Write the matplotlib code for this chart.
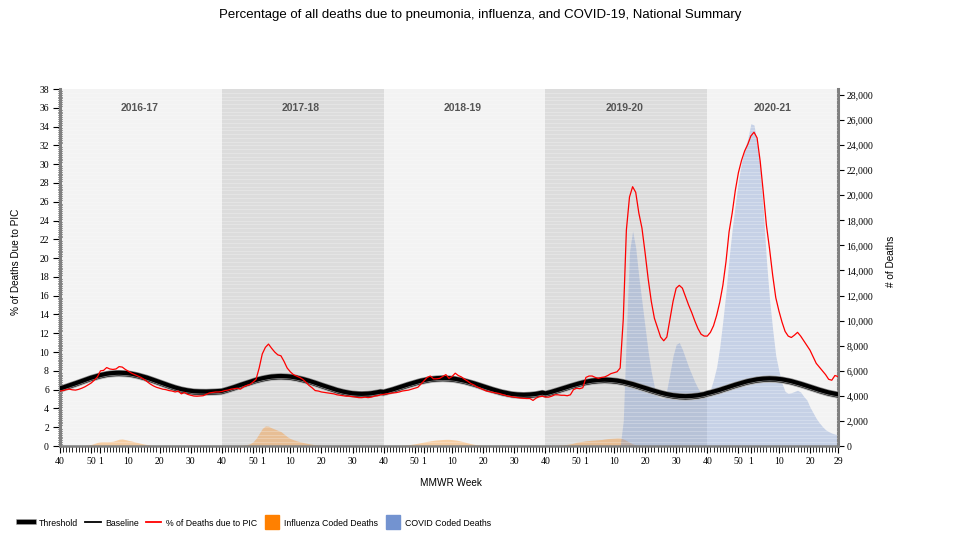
import matplotlib.pyplot as plt
import matplotlib.patheffects as pe
from matplotlib.lines import Line2D
from matplotlib.ticker import MultipleLocator, FuncFormatter
import numpy as np

plt.rcParams["font.family"] = ["Liberation Sans", "DejaVu Sans"]

TITLE = "Percentage of all deaths due to pneumonia, influenza, and COVID-19, National Summary"

SEASONS = ["2016-17", "2017-18", "2018-19", "2019-20", "2020-21"]
# MMWR weeks in each season (2020 has a week 53)
SEASON_WEEKS = [
    list(range(40, 53)) + list(range(1, 40)),
    list(range(40, 53)) + list(range(1, 40)),
    list(range(40, 53)) + list(range(1, 40)),
    list(range(40, 53)) + list(range(1, 40)),
    list(range(40, 54)) + list(range(1, 30)),
]
LABELED_WEEKS = {40, 50, 1, 10, 20, 30}

threshold_pct = [
    # 2016-17
    6.14, 6.23, 6.34, 6.45, 6.56, 6.68, 6.80, 6.92, 7.04, 7.16,
    7.27, 7.37, 7.46, 7.55, 7.62, 7.69, 7.74, 7.77, 7.79, 7.80,
    7.79, 7.77, 7.74, 7.69, 7.62, 7.55, 7.46, 7.37, 7.27, 7.16,
    7.04, 6.92, 6.80, 6.68, 6.56, 6.45, 6.34, 6.23, 6.14, 6.05,
    5.98, 5.92, 5.87, 5.83, 5.81, 5.80, 5.79, 5.79, 5.80, 5.81, 5.83, 5.85,
    # 2017-18
    5.87, 5.96, 6.06, 6.16, 6.27, 6.39, 6.50, 6.61, 6.73, 6.84,
    6.94, 7.04, 7.13, 7.21, 7.28, 7.34, 7.39, 7.42, 7.44, 7.45,
    7.44, 7.42, 7.39, 7.34, 7.28, 7.21, 7.13, 7.04, 6.94, 6.84,
    6.73, 6.61, 6.50, 6.39, 6.27, 6.16, 6.06, 5.96, 5.87, 5.79,
    5.72, 5.66, 5.61, 5.58, 5.56, 5.55, 5.56, 5.58, 5.61, 5.66, 5.72, 5.79,
    # 2018-19
    5.75, 5.84, 5.93, 6.03, 6.14, 6.24, 6.35, 6.46, 6.57, 6.67,
    6.77, 6.86, 6.95, 7.02, 7.09, 7.15, 7.19, 7.22, 7.24, 7.25,
    7.24, 7.22, 7.19, 7.15, 7.09, 7.02, 6.95, 6.86, 6.77, 6.67,
    6.57, 6.46, 6.35, 6.24, 6.14, 6.03, 5.93, 5.84, 5.75, 5.68,
    5.61, 5.55, 5.51, 5.48, 5.46, 5.45, 5.46, 5.48, 5.51, 5.55, 5.61, 5.68,
    # 2019-20
    5.60, 5.68, 5.77, 5.87, 5.97, 6.07, 6.18, 6.29, 6.39, 6.49,
    6.59, 6.68, 6.76, 6.84, 6.90, 6.96, 7.00, 7.03, 7.05, 7.06,
    7.05, 7.03, 7.00, 6.96, 6.90, 6.84, 6.76, 6.68, 6.59, 6.49,
    6.39, 6.29, 6.18, 6.07, 5.97, 5.87, 5.77, 5.68, 5.60, 5.52,
    5.46, 5.40, 5.36, 5.33, 5.31, 5.30, 5.31, 5.33, 5.36, 5.40, 5.46, 5.52,
    # 2020-21
    5.63, 5.70, 5.79, 5.88, 5.98, 6.09, 6.19, 6.30, 6.41, 6.52,
    6.62, 6.72, 6.81, 6.90, 6.97, 7.04, 7.10, 7.14, 7.17, 7.19,
    7.20, 7.19, 7.17, 7.14, 7.10, 7.04, 6.97, 6.90, 6.81, 6.72,
    6.62, 6.52, 6.41, 6.30, 6.19, 6.09, 5.98, 5.88, 5.79, 5.70,
    5.63, 5.56, 5.50,
]

baseline_pct = [
    # 2016-17
    5.84, 5.93, 6.04, 6.15, 6.26, 6.38, 6.50, 6.62, 6.74, 6.86,
    6.97, 7.07, 7.16, 7.25, 7.32, 7.39, 7.44, 7.47, 7.49, 7.50,
    7.49, 7.47, 7.44, 7.39, 7.32, 7.25, 7.16, 7.07, 6.97, 6.86,
    6.74, 6.62, 6.50, 6.38, 6.26, 6.15, 6.04, 5.93, 5.84, 5.75,
    5.68, 5.62, 5.57, 5.53, 5.51, 5.50, 5.49, 5.49, 5.50, 5.51, 5.53, 5.55,
    # 2017-18
    5.57, 5.66, 5.76, 5.86, 5.97, 6.09, 6.20, 6.31, 6.43, 6.54,
    6.64, 6.74, 6.83, 6.91, 6.98, 7.04, 7.09, 7.12, 7.14, 7.15,
    7.14, 7.12, 7.09, 7.04, 6.98, 6.91, 6.83, 6.74, 6.64, 6.54,
    6.43, 6.31, 6.20, 6.09, 5.97, 5.86, 5.76, 5.66, 5.57, 5.49,
    5.42, 5.36, 5.31, 5.28, 5.26, 5.25, 5.26, 5.28, 5.31, 5.36, 5.42, 5.49,
    # 2018-19
    5.45, 5.54, 5.63, 5.73, 5.84, 5.94, 6.05, 6.16, 6.27, 6.37,
    6.47, 6.56, 6.65, 6.72, 6.79, 6.85, 6.89, 6.92, 6.94, 6.95,
    6.94, 6.92, 6.89, 6.85, 6.79, 6.72, 6.65, 6.56, 6.47, 6.37,
    6.27, 6.16, 6.05, 5.94, 5.84, 5.73, 5.63, 5.54, 5.45, 5.38,
    5.31, 5.25, 5.21, 5.18, 5.16, 5.15, 5.16, 5.18, 5.21, 5.25, 5.31, 5.38,
    # 2019-20
    5.30, 5.38, 5.47, 5.57, 5.67, 5.77, 5.88, 5.99, 6.09, 6.19,
    6.29, 6.38, 6.46, 6.54, 6.60, 6.66, 6.70, 6.73, 6.75, 6.76,
    6.75, 6.73, 6.70, 6.66, 6.60, 6.54, 6.46, 6.38, 6.29, 6.19,
    6.09, 5.99, 5.88, 5.77, 5.67, 5.57, 5.47, 5.38, 5.30, 5.22,
    5.16, 5.10, 5.06, 5.03, 5.01, 5.00, 5.01, 5.03, 5.06, 5.10, 5.16, 5.22,
    # 2020-21
    5.33, 5.40, 5.49, 5.58, 5.68, 5.79, 5.89, 6.00, 6.11, 6.22,
    6.32, 6.42, 6.51, 6.60, 6.67, 6.74, 6.80, 6.84, 6.87, 6.89,
    6.90, 6.89, 6.87, 6.84, 6.80, 6.74, 6.67, 6.60, 6.51, 6.42,
    6.32, 6.22, 6.11, 6.00, 5.89, 5.79, 5.68, 5.58, 5.49, 5.40,
    5.33, 5.26, 5.20,
]

pic_pct = [
    # 2016-17
    5.85, 5.90, 6.00, 6.05, 5.98, 5.95, 6.03, 6.15, 6.30, 6.50,
    6.70, 7.00, 7.35, 8.00, 8.05, 8.35, 8.20, 8.15, 8.20, 8.45,
    8.40, 8.15, 7.95, 7.75, 7.60, 7.45, 7.30, 7.10, 6.85, 6.60,
    6.40, 6.25, 6.15, 6.05, 6.00, 5.90, 5.85, 5.75, 5.85, 5.55,
    5.70, 5.50, 5.40, 5.32, 5.30, 5.33, 5.35, 5.50, 5.65, 5.70, 5.75, 5.75,
    # 2017-18
    5.80, 5.90, 5.95, 6.05, 6.10, 6.15, 6.05, 6.30, 6.45, 6.55,
    6.80, 7.10, 8.30, 9.80, 10.50, 10.85, 10.40, 10.00, 9.70, 9.60,
    9.00, 8.30, 7.90, 7.60, 7.45, 7.30, 7.10, 6.80, 6.45, 6.20,
    5.90, 5.85, 5.75, 5.70, 5.65, 5.60, 5.55, 5.45, 5.40, 5.35,
    5.30, 5.30, 5.25, 5.20, 5.15, 5.15, 5.20, 5.15, 5.20, 5.30, 5.35, 5.45,
    # 2018-19
    5.50, 5.55, 5.60, 5.65, 5.68, 5.75, 5.85, 5.90, 5.95, 6.05,
    6.15, 6.25, 6.60, 6.95, 7.30, 7.45, 7.15, 7.15, 7.20, 7.40,
    7.60, 7.20, 7.40, 7.75, 7.50, 7.35, 7.10, 6.90, 6.65, 6.50,
    6.30, 6.15, 6.00, 5.85, 5.78, 5.72, 5.65, 5.60, 5.50, 5.40,
    5.30, 5.25, 5.20, 5.15, 5.10, 5.07, 5.05, 5.05, 4.85, 5.10, 5.25, 5.30,
    # 2019-20
    5.20, 5.20, 5.30, 5.45, 5.45, 5.40, 5.40, 5.35, 5.45, 6.00,
    6.15, 6.10, 6.20, 7.30, 7.45, 7.45, 7.30, 7.20, 7.30, 7.35,
    7.50, 7.70, 7.80, 7.90, 8.30, 13.50, 23.00, 26.50, 27.60, 27.00,
    24.80, 23.20, 20.60, 17.80, 15.40, 13.60, 12.60, 11.60, 11.20, 11.60,
    13.50, 15.40, 16.80, 17.10, 16.80, 15.90, 15.00, 14.20, 13.30, 12.50, 11.90, 11.70,
    # 2020-21
    11.70, 12.10, 12.80, 13.90, 15.30, 17.10, 19.60, 22.80, 24.80, 27.20,
    29.10, 30.40, 31.40, 32.10, 33.00, 33.40, 32.80, 30.30, 27.00, 23.50,
    21.00, 18.20, 15.80, 14.40, 13.20, 12.20, 11.70, 11.55, 11.80, 12.10,
    11.70, 11.20, 10.70, 10.20, 9.50, 8.80, 8.40, 8.00, 7.60, 7.10,
    7.00, 7.50, 7.40,
]

flu_deaths = [
    # 2016-17
    10, 10, 10, 15, 15, 20, 25, 35, 50, 70,
    120, 200, 290, 340, 350, 345, 350, 380, 460, 540,
    560, 510, 450, 400, 330, 270, 210, 160, 110, 75,
    50, 35, 25, 20, 15, 15, 15, 12, 12, 10,
    10, 10, 10, 10, 10, 10, 10, 10, 10, 10, 10, 10,
    # 2017-18
    15, 15, 20, 25, 30, 40, 55, 80, 110, 180,
    330, 600, 1000, 1400, 1600, 1580, 1450, 1350, 1250, 1150,
    950, 750, 600, 500, 420, 350, 290, 230, 180, 140,
    100, 70, 50, 40, 30, 30, 25, 25, 20, 20,
    15, 15, 15, 15, 15, 15, 15, 15, 15, 15, 15, 15,
    # 2018-19
    15, 15, 20, 25, 30, 40, 55, 75, 100, 140,
    180, 220, 270, 320, 370, 410, 450, 480, 500, 520,
    530, 530, 510, 480, 440, 380, 320, 250, 190, 140,
    100, 70, 50, 40, 30, 25, 20, 20, 15, 15,
    10, 10, 10, 10, 10, 10, 10, 10, 10, 10, 10, 10,
    # 2019-20
    20, 25, 30, 40, 55, 70, 100, 130, 170, 230,
    300, 340, 380, 420, 440, 460, 480, 500, 520, 560,
    590, 610, 630, 650, 640, 560, 440, 300, 170, 90,
    40, 20, 15, 10, 10, 5, 5, 5, 5, 5,
    5, 5, 5, 5, 5, 5, 5, 5, 5, 5, 5, 5,
    # 2020-21
    5, 5, 5, 5, 5, 5, 5, 5, 5, 5,
    5, 5, 5, 5, 5, 5, 5, 5, 5, 5,
    5, 5, 5, 5, 5, 5, 5, 5, 5, 5,
    5, 5, 5, 5, 5, 5, 5, 5, 5, 5,
    5, 5, 5,
]

covid_deaths = [0] * 156 + [
    # 2019-20
    0, 0, 0, 0, 0, 0, 0, 0, 0, 0,
    0, 0, 0, 0, 0, 0, 0, 0, 0, 0,
    0, 0, 0, 0, 0, 2000, 9000, 15500, 17150, 15800,
    13500, 11500, 9500, 7500, 5900, 4700, 4000, 3850, 3800, 4500,
    5800, 7200, 8100, 8250, 7700, 7000, 6300, 5700, 5100, 4600, 4250, 4200,
    # 2020-21
    4100, 4500, 5300, 6300, 7900, 10000, 12300, 15000, 17300, 19300,
    21200, 22600, 23700, 24500, 25700, 25600, 24200, 22300, 18800, 14800,
    11700, 9300, 7200, 6000, 5000, 4350, 4200, 4250, 4350, 4450,
    4300, 3950, 3670, 3100, 2650, 2200, 1850, 1550, 1300, 1150,
    1030, 950, 880,
]

# ---- x positions / ticks built from week lists
weeks = [w for s in SEASON_WEEKS for w in s]
x = np.arange(len(weeks))
season_start = np.cumsum([0] + [len(s) for s in SEASON_WEEKS])
tick_pos = [i for i, w in enumerate(weeks) if w in LABELED_WEEKS] + [len(weeks) - 1]
tick_lab = [str(weeks[i]) for i in tick_pos]

fig = plt.figure(figsize=(9.6, 5.37), dpi=100)
ax = fig.add_axes([60 / 960, 91 / 537, 778 / 960, 357 / 537])   # deaths (right)
ax_pct = ax.twinx()                                              # percent (left)
ax.yaxis.tick_right()
ax.yaxis.set_label_position("right")
ax_pct.yaxis.tick_left()

ax.set_xlim(0, len(weeks) - 1)
ax.set_ylim(0, 28470)
ax_pct.set_ylim(0, 38)

# season bands
ax.set_facecolor("#f3f3f3")
for k, name in enumerate(SEASONS):
    a, b = season_start[k], season_start[k + 1]
    if k % 2 == 1:
        ax.axvspan(a, b, color="#dcdcdc", lw=0, zorder=0)
    ax_pct.text((a + b) / 2 - 0.5, 36, name, ha="center", va="center",
                fontsize=7.5, fontweight="bold", color="#555555")

# areas
ax.fill_between(x, 0, flu_deaths, color="#ff8000", alpha=0.32, lw=0, zorder=2)
ax.fill_between(x, 0, covid_deaths, color="#7393d0", alpha=0.35, lw=0, zorder=2)

# faint horizontal stripes
for yv in np.arange(0.4, 38, 0.4):
    ax_pct.axhline(yv, color="white", lw=0.7, alpha=0.25, zorder=0.5)

# lines
ax_pct.plot(x, baseline_pct, color="black", lw=0.8, zorder=3,
            path_effects=[pe.Stroke(linewidth=2.2, foreground="#b5b5b5"), pe.Normal()])
ax_pct.plot(x, threshold_pct, color="black", lw=3.0, zorder=4,
            path_effects=[pe.Stroke(linewidth=4.0, foreground="#8a8a8a"), pe.Normal()])
ax_pct.plot(x, pic_pct, color="#ff0000", lw=0.9, zorder=5)

# spines
for s in ("top", "left"):
    ax.spines[s].set_visible(False)
for s in ("top", "right", "bottom"):
    ax_pct.spines[s].set_visible(False)
ax.spines["right"].set_color("#808080")
ax.spines["right"].set_linewidth(2.2)
ax.spines["bottom"].set_color("#808080")
ax.spines["bottom"].set_linewidth(1.8)
ax_pct.spines["left"].set_color("#808080")
ax_pct.spines["left"].set_linewidth(2.2)

# ticks
tick_font = "Liberation Serif"
ax.set_xticks(tick_pos)
ax.set_xticklabels(tick_lab)
ax.xaxis.set_minor_locator(MultipleLocator(1))
ax.tick_params(axis="x", which="major", length=5, width=0.8, labelsize=7,
               pad=3, labelfontfamily=tick_font)
ax.tick_params(axis="x", which="minor", length=4, width=0.6)

ax.set_yticks(range(0, 28001, 2000))
ax.yaxis.set_major_formatter(FuncFormatter(lambda v, _: f"{int(v):,}"))
ax.tick_params(axis="y", which="major", length=4, width=0.8, labelsize=7,
               pad=2, labelfontfamily=tick_font)

ax_pct.set_yticks(range(0, 39, 2))
ax_pct.yaxis.set_minor_locator(MultipleLocator(0.2))
ax_pct.tick_params(axis="y", which="major", length=5, width=0.8, labelsize=7,
                   pad=3, labelfontfamily=tick_font)
ax_pct.tick_params(axis="y", which="minor", length=3, width=0.5,
                   direction="inout", color="black")

# labels
fig.text(0.5, 1 - 15 / 537, TITLE, ha="center", va="center", fontsize=9.5)
fig.text(16 / 960, 1 - 262 / 537, "% of Deaths Due to PIC", rotation=90,
         ha="center", va="center", fontsize=7.2)
fig.text(891 / 960, 1 - 261 / 537, "# of Deaths", rotation=90,
         ha="center", va="center", fontsize=7.2)
fig.text(451 / 960, 1 - 483 / 537, "MMWR Week", ha="center", va="center",
         fontsize=7.2)

# legend
handles = [
    Line2D([], [], color="black", lw=3.0,
           path_effects=[pe.Stroke(linewidth=4.0, foreground="#8a8a8a"), pe.Normal()]),
    Line2D([], [], color="black", lw=1.3),
    Line2D([], [], color="#ff0000", lw=1.3),
    Line2D([], [], color="#ff8000", marker="s", markersize=10.5, ls="none"),
    Line2D([], [], color="#7393d0", marker="s", markersize=10.5, ls="none"),
]
labels = ["Threshold", "Baseline", "% of Deaths due to PIC",
          "Influenza Coded Deaths", "COVID Coded Deaths"]
fig.legend(handles, labels, loc="center left", bbox_to_anchor=(19 / 960, 1 - 523 / 537),
           ncol=5, frameon=False, fontsize=6.3, handlelength=1.75,
           handletextpad=0.5, columnspacing=0.85, borderaxespad=0, borderpad=0)

fig.savefig("out.png", dpi=100)
